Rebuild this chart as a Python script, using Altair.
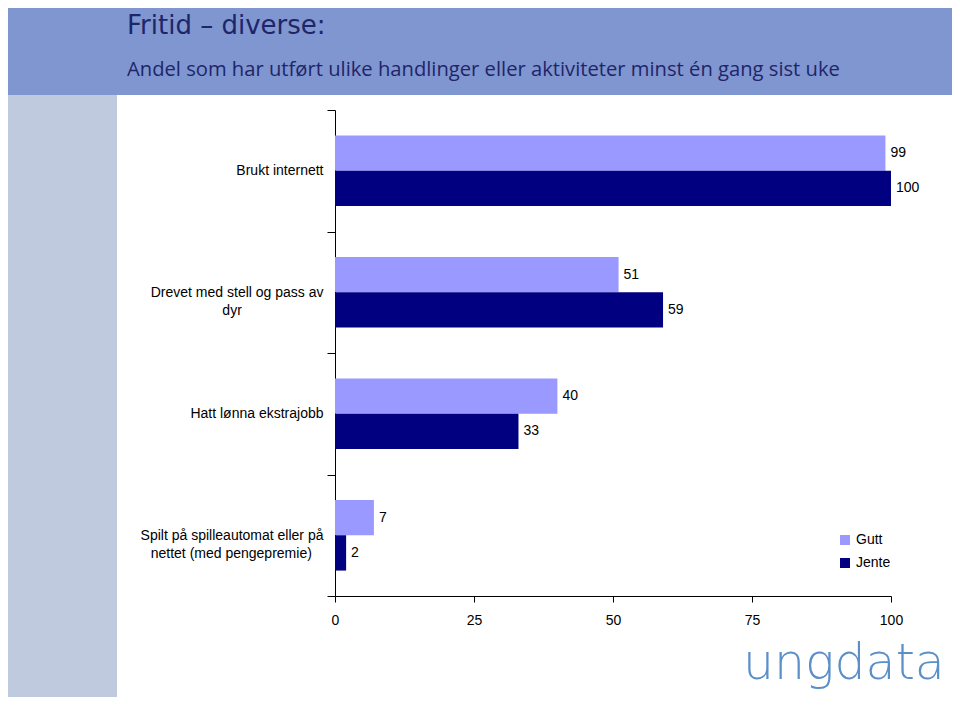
import altair as alt
import pandas as pd

categories = [
    "Brukt internett",
    "Drevet med stell og pass av dyr",
    "Hatt lønna ekstrajobb",
    "Spilt på spilleautomat eller på nettet (med pengepremie)",
]
series = ["Gutt", "Jente"]
gutt = [99, 51, 40, 7]
jente = [100, 59, 33, 2]
x_ticks = [0, 25, 50, 75, 100]

# line breaks of the category labels (nbsp keeps the short line visually centred)
NB = "\u00a0"
ZW = "\u200b"
label_lines = {
    "Brukt internett": ["Brukt internett"],
    "Drevet med stell og pass av dyr": ["Drevet med stell og pass av", "dyr" + NB * 21 + ZW],
    "Hatt lønna ekstrajobb": ["Hatt lønna ekstrajobb"],
    "Spilt på spilleautomat eller på nettet (med pengepremie)": [
        "Spilt på spilleautomat eller på",
        "nettet (med pengepremie)" + NB * 3 + ZW,
    ],
}

title_text = "Fritid \u2013 diverse:"
subtitle_text = "Andel som har utført ulike handlinger eller aktiviteter minst én gang sist uke"
logo_text = "ungdata"

rows = []
for c, g, j in zip(categories, gutt, jente):
    rows.append({"kategori": c, "kjønn": series[0], "andel": g})
    rows.append({"kategori": c, "kjønn": series[1], "andel": j})
df = pd.DataFrame(rows)

parts = []
for k, lines in label_lines.items():
    arr = "[" + ",".join("'" + l + "'" for l in lines) + "]"
    parts.append(f"datum.value == '{k}' ? {arr}")
label_expr = " : ".join(parts) + " : datum.value"

PW, PH = 556, 486

y_enc = alt.Y(
    "kategori:N",
    sort=categories,
    scale=alt.Scale(paddingInner=0, paddingOuter=0),
    axis=alt.Axis(
        title=None,
        tickBand="extent",
        tickSize=8,
        tickColor="black",
        domainColor="black",
        labelColor="black",
        labelFont="Liberation Sans",
        labelFontSize=14,
        labelPadding=4,
        labelLimit=400,
        labelLineHeight=18,
        labelExpr=label_expr,
    ),
)
x_enc = alt.X(
    "andel:Q",
    scale=alt.Scale(domain=[0, 100], nice=False),
    axis=alt.Axis(
        title=None,
        values=x_ticks,
        grid=False,
        tickSize=6,
        tickColor="black",
        domainColor="black",
        labelColor="black",
        labelFont="Liberation Sans",
        labelFontSize=14,
        labelPadding=11,
        labelFlush=False,
    ),
)
yoff = alt.YOffset("kjønn:N", sort=series, scale=alt.Scale(paddingInner=0, paddingOuter=0.72))

bars = alt.Chart(df).mark_bar(strokeWidth=0).encode(
    x=x_enc,
    y=y_enc,
    yOffset=yoff,
    color=alt.Color(
        "kjønn:N",
        sort=series,
        scale=alt.Scale(domain=series, range=["#9999FF", "#000080"]),
        legend=alt.Legend(
            title=None,
            orient="none",
            legendX=503,
            legendY=423,
            symbolType="square",
            symbolSize=100,
            symbolStrokeWidth=0,
            labelFont="Liberation Sans",
            labelFontSize=14,
            labelColor="black",
            labelOffset=4,
            rowPadding=9,
            padding=0,
        ),
    ),
)

values = alt.Chart(df).mark_text(
    align="left", baseline="middle", dx=5, font="Liberation Sans", fontSize=14, color="black"
).encode(
    x="andel:Q",
    y=alt.Y("kategori:N", sort=categories),
    yOffset=alt.YOffset("kjønn:N", sort=series),
    text="andel:Q",
)

one = pd.DataFrame({"d": [0]})
header = alt.Chart(one).mark_rect(color="#7F96D0").encode(
    x=alt.value(-400), x2=alt.value(700), y=alt.value(-200), y2=alt.value(-15)
)
strip = alt.Chart(one).mark_rect(color="#C0CADF").encode(
    x=alt.value(-400), x2=alt.value(-218), y=alt.value(-15), y2=alt.value(700)
)
title = alt.Chart(one).mark_text(
    align="left", baseline="alphabetic", font="DejaVu Sans", fontSize=26, color="#1F2569"
).encode(x=alt.value(-208), y=alt.value(-76), text=alt.value(title_text))
subtitle = alt.Chart(one).mark_text(
    align="left", baseline="alphabetic", font="Open Sans", fontSize=20.2, color="#1F2569"
).encode(x=alt.value(-208), y=alt.value(-34), text=alt.value(subtitle_text))
logo = alt.Chart(one).mark_text(
    align="left", baseline="alphabetic", font="DejaVu Sans", fontWeight=200, fontSize=49, color="#5B8FC8"
).encode(x=alt.value(408), y=alt.value(569), text=alt.value(logo_text))

chart = (
    alt.layer(header, strip, title, subtitle, logo, bars, values)
    .properties(
        width=PW,
        height=PH,
        autosize=alt.AutoSizeParams(type="none"),
        padding={"left": 327, "top": 102, "right": 61, "bottom": 101},
        background="white",
    )
    .configure_view(stroke=None)
)

chart.save("out.html", embed_options={"renderer": "svg", "actions": False})
